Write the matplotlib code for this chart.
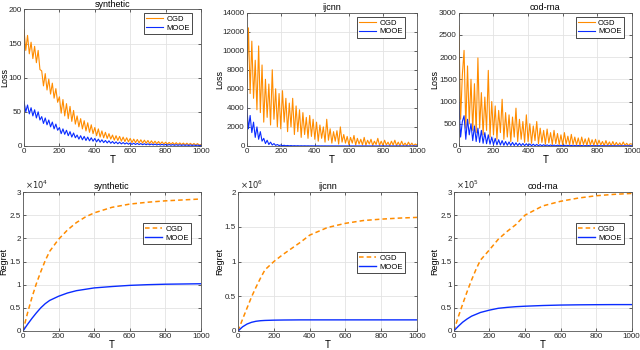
import numpy as np
import matplotlib.pyplot as plt
from matplotlib.ticker import FuncFormatter, MultipleLocator

plt.rcParams['font.family'] = ['Liberation Sans', 'DejaVu Sans']

ogd_color = '#ff8c00'
mooe_color = '#0a2cff'

# ---- loss data (T = 0, 10, ..., 1000) ----
t_loss = np.arange(0, 1001, 10)

syn_ogd = [170, 140, 162, 135, 152, 128, 146, 122, 140, 112,
           110, 88, 106, 82, 98, 76, 92, 70, 84, 64,
           72, 48, 68, 44, 62, 40, 58, 36, 52, 32,
           44, 28, 40, 25, 37, 22, 34, 20, 31, 18,
           27, 15, 25, 13, 22, 12, 20, 11, 18, 10,
           16, 8.5, 15, 8, 14, 7, 13, 6.5, 12, 6,
           11, 5, 10, 4.8, 9.5, 4.5, 9, 4.2, 8.5, 4,
           8, 3.6, 7.5, 3.4, 7, 3.2, 6.5, 3, 6, 2.8,
           5.5, 2.6, 5.2, 2.4, 5, 2.2, 4.8, 2, 4.5, 1.9,
           4.2, 1.8, 4, 1.7, 3.8, 1.6, 3.6, 1.5, 3.4, 1.4,
           2]
syn_mooe = [65, 50, 60, 47, 56, 44, 53, 41, 50, 38,
            43, 33, 41, 31, 38, 28, 35, 25, 32, 23,
            27, 18, 25, 17, 23, 15, 21, 13, 19, 12,
            16, 10, 15, 9, 14, 8, 13, 7.5, 12, 7,
            11, 6, 10, 5.5, 9, 5, 8, 4.5, 7.5, 4,
            6.5, 3.5, 6, 3.2, 5.5, 3, 5, 2.8, 4.6, 2.5,
            4.3, 2.3, 4, 2.1, 3.8, 2, 3.5, 1.8, 3.3, 1.7,
            3.1, 1.6, 2.9, 1.5, 2.7, 1.4, 2.5, 1.3, 2.4, 1.2,
            2.2, 1.1, 2.1, 1, 2, 0.9, 1.9, 0.9, 1.8, 0.8,
            1.7, 0.8, 1.6, 0.7, 1.5, 0.7, 1.4, 0.6, 1.3, 0.6,
            0.8]

ijcnn_ogd = [6000, 12400, 5500, 11000, 5000, 9000, 3800, 10500, 3500, 8500,
             2500, 7000, 3000, 6500, 2200, 8000, 2800, 6000, 2000, 5500,
             1800, 5800, 2500, 5000, 1500, 4500, 2000, 5000, 1200, 4200,
             1500, 3800, 900, 3500, 1200, 3000, 800, 3200, 1000, 2800,
             700, 2500, 500, 2200, 800, 2000, 400, 2800, 600, 1800,
             300, 1500, 500, 1600, 200, 2000, 400, 1200, 300, 1000,
             150, 900, 300, 1100, 100, 800, 200, 700, 100, 900,
             80, 600, 200, 700, 50, 500, 150, 800, 60, 500,
             50, 600, 100, 400, 30, 500, 80, 600, 40, 400,
             30, 500, 60, 300, 20, 400, 50, 300, 20, 200,
             100]
ijcnn_mooe = [4200, 1800, 3200, 1400, 2500, 900, 2000, 700, 1500, 500,
              800, 250, 600, 150, 400, 100, 250, 60, 150, 40,
              100, 30, 70, 20, 50, 15, 40, 10, 30, 8,
              25, 6, 20, 5, 18, 5, 15, 4, 12, 4,
              10, 3, 10, 3, 8, 3, 8, 2, 6, 2,
              6, 2, 5, 2, 5, 2, 4, 1, 4, 1,
              4, 1, 3, 1, 3, 1, 3, 1, 3, 1,
              2, 1, 2, 1, 2, 1, 2, 1, 2, 1,
              2, 1, 2, 1, 2, 1, 2, 1, 2, 1,
              2, 1, 2, 1, 2, 1, 2, 1, 2, 1,
              1]

cod_ogd = [2700, 600, 1600, 2150, 400, 1800, 500, 1500, 350, 1400,
           300, 1980, 400, 1200, 250, 1100, 350, 1700, 200, 1000,
           250, 900, 150, 800, 300, 1050, 150, 750, 200, 700,
           100, 650, 200, 850, 100, 600, 150, 550, 80, 700,
           100, 500, 60, 450, 120, 550, 50, 400, 80, 350,
           40, 380, 70, 300, 30, 350, 50, 280, 30, 250,
           20, 300, 40, 220, 20, 260, 30, 200, 20, 180,
           10, 200, 30, 160, 10, 180, 20, 140, 10, 150,
           10, 130, 20, 100, 5, 120, 10, 90, 5, 100,
           5, 80, 10, 70, 5, 90, 10, 60, 5, 50,
           40]
cod_mooe = [980, 200, 550, 680, 150, 600, 250, 500, 120, 450,
            100, 400, 80, 350, 60, 300, 50, 250, 40, 200,
            30, 170, 25, 140, 20, 120, 15, 100, 15, 90,
            10, 80, 10, 70, 8, 60, 8, 55, 6, 50,
            5, 45, 5, 40, 4, 35, 4, 30, 3, 28,
            3, 25, 3, 22, 2, 20, 2, 18, 2, 16,
            2, 15, 2, 14, 1, 13, 1, 12, 1, 11,
            1, 10, 1, 9, 1, 9, 1, 8, 1, 8,
            1, 7, 1, 7, 1, 6, 1, 6, 1, 6,
            1, 5, 1, 5, 1, 5, 1, 5, 1, 5,
            3]

# ---- regret data ----
t_reg = [0, 25, 50, 75, 100, 125, 150, 200, 250, 300, 350, 400, 500, 600, 700, 800, 900, 1000]
syn_ogd_reg = [0, 0.38, 0.72, 1.02, 1.28, 1.52, 1.72, 1.98, 2.18, 2.34, 2.46, 2.55, 2.67, 2.74, 2.78, 2.81, 2.83, 2.85]
syn_mooe_reg = [0, 0.14, 0.27, 0.39, 0.5, 0.59, 0.66, 0.75, 0.82, 0.87, 0.9, 0.93, 0.96, 0.985, 1.0, 1.01, 1.015, 1.02]
ijcnn_ogd_reg = [0, 0.17, 0.33, 0.49, 0.63, 0.76, 0.88, 1.0, 1.1, 1.19, 1.28, 1.38, 1.49, 1.55, 1.59, 1.61, 1.625, 1.635]
ijcnn_mooe_reg = [0, 0.06, 0.1, 0.125, 0.14, 0.148, 0.152, 0.156, 0.158, 0.159, 0.16, 0.16, 0.16, 0.16, 0.16, 0.16, 0.16, 0.16]
cod_ogd_reg = [0, 0.3, 0.58, 0.85, 1.1, 1.33, 1.53, 1.75, 1.98, 2.15, 2.3, 2.5, 2.7, 2.8, 2.87, 2.92, 2.95, 2.97]
cod_mooe_reg = [0, 0.1, 0.19, 0.26, 0.32, 0.36, 0.4, 0.45, 0.49, 0.51, 0.525, 0.535, 0.55, 0.56, 0.565, 0.568, 0.57, 0.57]

titles = ['synthetic', 'ijcnn', 'cod-rna']
reg_exp = [4, 6, 5]


def style(ax):
    ax.set_xlim(0, 1000)
    ax.xaxis.set_major_locator(MultipleLocator(200))
    ax.grid(True, color='#e3e3e3', linewidth=0.6)
    ax.set_axisbelow(True)
    ax.tick_params(direction='in', length=2, width=0.5, labelsize=5.8, pad=1.5,
                   top=True, right=True, colors='#262626')
    for s in ax.spines.values():
        s.set_linewidth(0.6)
        s.set_color('#555555')
    ax.yaxis.set_major_formatter(FuncFormatter(lambda v, p: '%g' % v))
    ax.xaxis.set_major_formatter(FuncFormatter(lambda v, p: '%g' % v))


def legend(ax, anchor):
    leg = ax.legend(loc='upper right', bbox_to_anchor=anchor, fontsize=5.5, fancybox=False,
                    edgecolor='black', framealpha=1, handlelength=2.2, handletextpad=0.4,
                    borderpad=0.3, labelspacing=0.2, borderaxespad=0)
    leg.get_frame().set_linewidth(0.5)


fig = plt.figure(figsize=(6.4, 3.5), dpi=100)

top_pos = [[0.0375, 0.583, 0.2766, 0.39], [0.3855, 0.583, 0.266, 0.381], [0.717, 0.583, 0.2703, 0.381]]
bot_pos = [[0.0359, 0.0543, 0.278, 0.397], [0.372, 0.0543, 0.2797, 0.397], [0.709, 0.0543, 0.278, 0.397]]
loss_sets = [(syn_ogd, syn_mooe, 200, 50), (ijcnn_ogd, ijcnn_mooe, 14000, 2000), (cod_ogd, cod_mooe, 3000, 500)]
top_leg = [(0.949, 0.974), (0.93, 0.968), (0.954, 0.968)]
top_ylab = [-0.085, -0.133, -0.116]

for i in range(3):
    ax = fig.add_axes(top_pos[i])
    ogd, mooe, ymax, step = loss_sets[i]
    ax.plot(t_loss, ogd, color=ogd_color, lw=0.8, label='OGD')
    ax.plot(t_loss, mooe, color=mooe_color, lw=0.8, label='MOOE')
    style(ax)
    ax.set_ylim(0, ymax)
    ax.yaxis.set_major_locator(MultipleLocator(step))
    ax.set_title(titles[i], fontsize=6.5, pad=2)
    ax.set_xlabel('T', fontsize=7, labelpad=0)
    ax.set_ylabel('Loss', fontsize=6.5)
    ax.yaxis.set_label_coords(top_ylab[i], 0.5)
    legend(ax, top_leg[i])

reg_sets = [(syn_ogd_reg, syn_mooe_reg), (ijcnn_ogd_reg, ijcnn_mooe_reg), (cod_ogd_reg, cod_mooe_reg)]
bot_leg = [(0.944, 0.777), (0.933, 0.568), (0.955, 0.777)]
bot_ylab = [-0.081, -0.078, -0.084]

for i in range(3):
    ax = fig.add_axes(bot_pos[i])
    ogd, mooe = reg_sets[i]
    ax.plot(t_reg, ogd, color=ogd_color, lw=1.1, ls=(0, (3, 2)), label='OGD')
    ax.plot(t_reg, mooe, color=mooe_color, lw=1.0, label='MOOE')
    style(ax)
    ymax = 3 if i != 1 else 2
    ax.set_ylim(0, ymax)
    ax.yaxis.set_major_locator(MultipleLocator(0.5))
    ax.text(0.01, 1.005, r'$\times10^{%d}$' % reg_exp[i], transform=ax.transAxes,
            fontsize=6, va='bottom', ha='left', color='#262626')
    ax.set_title(titles[i], fontsize=6.5, pad=2)
    ax.set_xlabel('T', fontsize=7, labelpad=0)
    ax.set_ylabel('Regret', fontsize=6.5)
    ax.yaxis.set_label_coords(bot_ylab[i], 0.5)
    legend(ax, bot_leg[i])

fig.savefig('out.png', dpi=100)
